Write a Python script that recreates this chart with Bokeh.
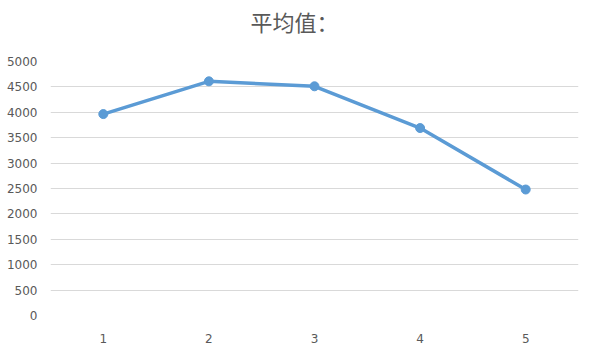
from bokeh.plotting import figure
from bokeh.models import FixedTicker, Range1d, Title
from bokeh.embed import file_html
from bokeh.resources import INLINE

categories = [1, 2, 3, 4, 5]
values = [3965, 4610, 4512, 3690, 2480]
y_ticks = list(range(0, 5001, 500))
title_text = "平均值："

p = figure(width=591, height=345, output_backend="svg", toolbar_location=None,
           x_range=Range1d(0.5, 5.5), y_range=Range1d(0, 5000),
           min_border_left=50, min_border_right=13, min_border_top=61, min_border_bottom=28)

# spacer between frame and title
spacer = Title(text=" ", text_font_size="1px", standoff=20)
p.add_layout(spacer, "above")

main_title = Title(text=title_text, align="left", offset=200, vertical_align="top",
                   standoff=0, text_font="Noto Sans CJK SC", text_font_size="22px",
                   text_font_style="normal", text_color="#595959")
p.add_layout(main_title, "above")

p.outline_line_color = None
p.background_fill_color = "white"
p.border_fill_color = "white"

p.xgrid.grid_line_color = None
p.ygrid.grid_line_color = "#D9D9D9"
p.ygrid.grid_line_width = 1

for ax in (p.xaxis, p.yaxis):
    ax.axis_line_color = None
    ax.major_tick_line_color = None
    ax.minor_tick_line_color = None
    ax.major_label_text_color = "#595959"
    ax.major_label_text_font = "DejaVu Sans"
    ax.major_label_text_font_size = "12px"

p.xaxis.ticker = FixedTicker(ticks=categories)
p.yaxis.ticker = FixedTicker(ticks=y_ticks)
p.yaxis.major_label_standoff = 7
p.xaxis.major_label_standoff = 12

p.line(categories, values, line_color="#5B9BD5", line_width=3.5)
p.scatter(categories, values, size=9, fill_color="#5B9BD5", line_color="#5B9BD5")

open("out.html", "w").write(file_html(p, INLINE))
